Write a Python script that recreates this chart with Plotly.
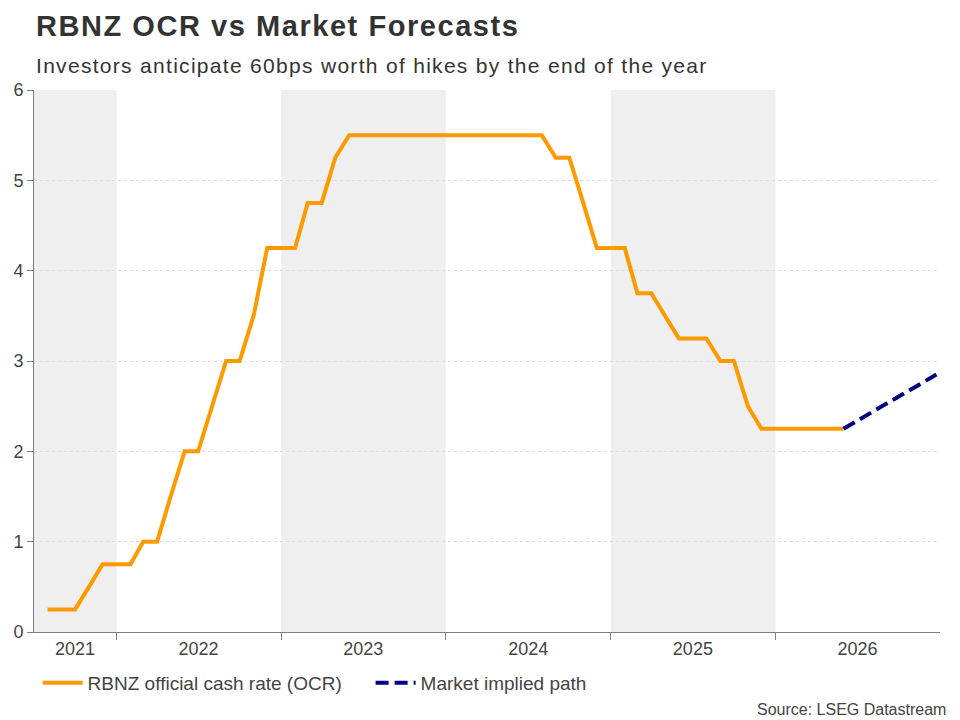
import plotly.graph_objects as go

# --- data ---
ocr_dates = [
    "2021-08-01", "2021-09-01", "2021-10-01", "2021-11-01", "2021-12-01",
    "2022-01-01", "2022-02-01", "2022-03-01", "2022-04-01", "2022-05-01", "2022-06-01",
    "2022-07-01", "2022-08-01", "2022-09-01", "2022-10-01", "2022-11-01", "2022-12-01",
    "2023-01-01", "2023-02-01", "2023-03-01", "2023-04-01", "2023-05-01", "2023-06-01",
    "2023-07-01", "2023-08-01", "2023-09-01", "2023-10-01", "2023-11-01", "2023-12-01",
    "2024-01-01", "2024-02-01", "2024-03-01", "2024-04-01", "2024-05-01", "2024-06-01",
    "2024-07-01", "2024-08-01", "2024-09-01", "2024-10-01", "2024-11-01", "2024-12-01",
    "2025-01-01", "2025-02-01", "2025-03-01", "2025-04-01", "2025-05-01", "2025-06-01",
    "2025-07-01", "2025-08-01", "2025-09-01", "2025-10-01", "2025-11-01", "2025-12-01",
    "2026-01-01", "2026-02-01", "2026-03-01", "2026-04-01", "2026-05-01", "2026-06-01",
]
ocr_values = [
    0.25, 0.25, 0.25, 0.5, 0.75,
    0.75, 0.75, 1.0, 1.0, 1.5, 2.0,
    2.0, 2.5, 3.0, 3.0, 3.5, 4.25,
    4.25, 4.25, 4.75, 4.75, 5.25, 5.5,
    5.5, 5.5, 5.5, 5.5, 5.5, 5.5,
    5.5, 5.5, 5.5, 5.5, 5.5, 5.5,
    5.5, 5.5, 5.25, 5.25, 4.75, 4.25,
    4.25, 4.25, 3.75, 3.75, 3.5, 3.25,
    3.25, 3.25, 3.0, 3.0, 2.5, 2.25,
    2.25, 2.25, 2.25, 2.25, 2.25, 2.25,
]
market_dates = ["2026-06-01", "2026-12-24"]
market_values = [2.25, 2.85]

year_labels = ["2021", "2022", "2023", "2024", "2025", "2026"]
year_label_pos = ["2021-10-01", "2022-07-02", "2023-07-02", "2024-07-02", "2025-07-02", "2026-07-02"]
year_bounds = ["2022-01-01", "2023-01-01", "2024-01-01", "2025-01-01", "2026-01-01"]
shaded = [("2021-07-02", "2022-01-01"), ("2023-01-01", "2024-01-01"), ("2025-01-01", "2026-01-01")]
x_range = ["2021-07-02", "2027-01-01"]

FONT = "Liberation Sans, Arial, sans-serif"

fig = go.Figure()
fig.add_trace(go.Scatter(
    x=ocr_dates, y=ocr_values, mode="lines",
    name="RBNZ official cash rate (OCR)",
    line=dict(color="#FF9900", width=4),
))
fig.add_trace(go.Scatter(
    x=market_dates, y=market_values, mode="lines",
    name="Market implied path",
    line=dict(color="#000080", width=4, dash="13px,6px"),
))

shapes = []
for a, b in shaded:
    shapes.append(dict(type="rect", xref="x", yref="paper", x0=a, x1=b, y0=0, y1=1,
                       fillcolor="#EFEFEF", line=dict(width=0), layer="below"))

PH = 542  # plot height in px

fig.update_layout(
    width=960, height=720,
    margin=dict(l=34, r=20, t=90, b=88),
    paper_bgcolor="white", plot_bgcolor="white",
    font=dict(family=FONT, color="#444444", size=18),
    shapes=shapes,
    showlegend=True,
    legend=dict(orientation="h", x=0.004, xanchor="left", y=-(683 - 632) / PH, yanchor="middle",
                font=dict(size=19, color="#444444"), itemwidth=40, entrywidth=278,
                bgcolor="rgba(0,0,0,0)", traceorder="normal", tracegroupgap=0),
    xaxis=dict(
        type="date", range=x_range,
        tickmode="array", tickvals=year_label_pos, ticktext=year_labels,
        ticks="", showgrid=False, zeroline=False,
        showline=True, linecolor="#808080", linewidth=1,
        tickfont=dict(size=18, color="#444444"),
        minor=dict(tickmode="array", tickvals=year_bounds, ticks="outside",
                   ticklen=7, tickcolor="#808080", showgrid=False),
    ),
    yaxis=dict(
        range=[0, 6], tickvals=[0, 1, 2, 3, 4, 5, 6],
        showgrid=True, gridcolor="#DDDDDD", griddash="dot", gridwidth=1,
        zeroline=False, showline=True, linecolor="#808080", linewidth=1,
        ticks="outside", ticklen=6, tickcolor="#808080",
        tickfont=dict(size=18, color="#444444"),
    ),
    annotations=[
        dict(text="<span style='letter-spacing:1.55px'><b>RBNZ OCR vs Market Forecasts</b></span>",
             xref="paper", yref="paper",
             x=0, y=1 + (90 - 25.5) / PH, xanchor="left", yanchor="middle",
             showarrow=False, font=dict(size=29, color="#333333", family=FONT)),
        dict(text="<span style='letter-spacing:1.3px'>Investors anticipate 60bps worth of hikes by the end of the year</span>",
             xref="paper", yref="paper", x=0, y=1 + (90 - 65.5) / PH,
             xanchor="left", yanchor="middle", showarrow=False,
             font=dict(size=21, color="#333333", family=FONT)),
        dict(text="Source: LSEG Datastream", xref="paper", yref="paper",
             x=1 + 8 / 906, y=-(709 - 632) / PH, xanchor="right", yanchor="middle",
             showarrow=False, font=dict(size=16, color="#444444", family=FONT)),
    ],
)

fig.write_html("out.html")
